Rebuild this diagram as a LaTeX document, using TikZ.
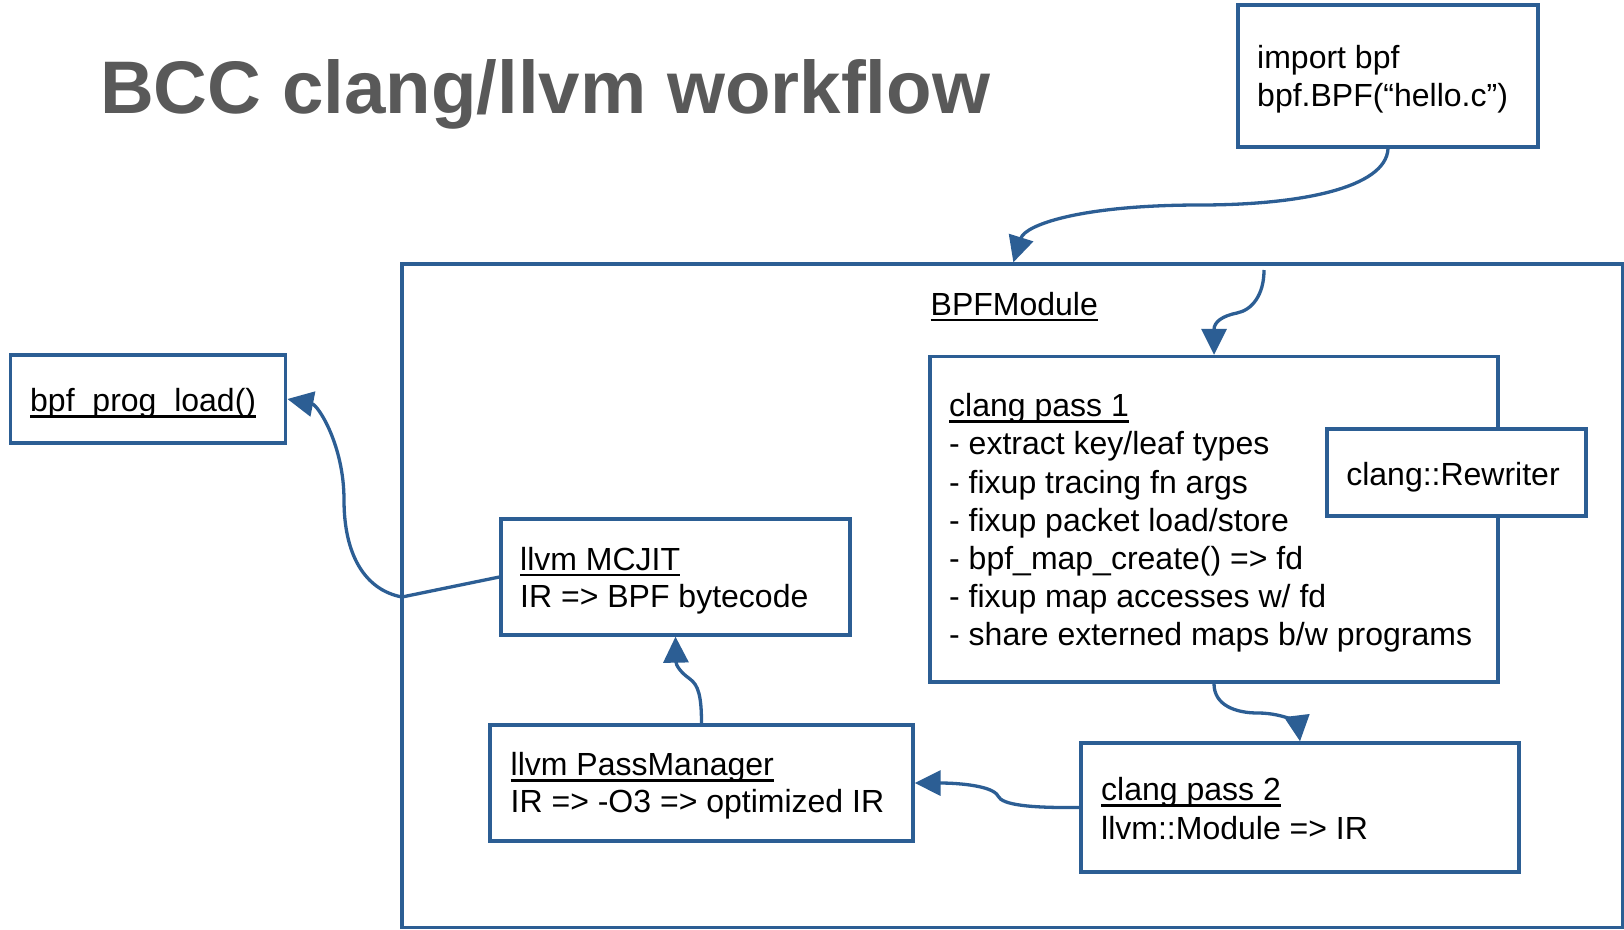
\documentclass[tikz,border=0pt]{standalone}
\usepackage{fontspec}
\setmainfont{Liberation Sans}
\usetikzlibrary{arrows.meta}
\definecolor{bcblue}{RGB}{44,94,148}
\definecolor{titlegray}{RGB}{89,89,89}
\newcommand\ulx[1]{\setbox0=\hbox{#1}\rlap{\rule[-6pt]{\wd0}{2.6pt}}\box0}
\newcommand\fl{\rule{0pt}{26pt}}
\begin{document}
\begin{tikzpicture}[x=1pt,y=-1pt,
  bbox/.style={draw=bcblue, line width=3.3pt, rectangle, inner sep=0pt, fill=white},
  txt/.style={anchor=north west, inner sep=0pt, align=left, text=black},
  conn/.style={draw=bcblue, line width=3.3pt, -{Triangle[length=26pt,width=25pt]}},
]
\useasboundingbox (0,0) rectangle (1624,929);

% title
\node[anchor=base west, inner sep=0pt, font=\fontsize{74.5}{80}\selectfont\bfseries, text=titlegray] (title) at (100,113.3) {BCC clang/llvm workflow};

% boxes
\node[bbox, minimum width=1221pt, minimum height=663.5pt] (bpfm) at (1012.5,595.75) {};
\node[bbox, minimum width=300pt, minimum height=142pt] (imp) at (1388,76) {};
\node[bbox, minimum width=568pt, minimum height=325.5pt] (cp1) at (1214,519.25) {};
\node[bbox, minimum width=259pt, minimum height=87pt] (rew) at (1456.5,472.5) {};
\node[bbox, minimum width=275.5pt, minimum height=88pt] (load) at (148,399) {};
\node[bbox, minimum width=349pt, minimum height=116pt] (mcjit) at (675.5,577) {};
\node[bbox, minimum width=423pt, minimum height=116pt] (pm) at (701.5,783) {};
\node[bbox, minimum width=438pt, minimum height=129pt] (cp2) at (1300,807.5) {};

% texts
\node[txt, font=\fontsize{32}{38.5}\selectfont] (impt) at (1257,42) {\fl import bpf\\bpf.BPF(“hello.c”)};
\node[txt, font=\fontsize{32}{38}\selectfont] (bpfmt) at (930.5,289) {\fl\ulx{BPFModule}};
\node[txt, font=\fontsize{32}{38.2}\selectfont] (cp1t) at (949,390.5) {\fl\ulx{clang pass 1}\\
- extract key/leaf types\\
- fixup tracing fn args\\
- fixup packet load/store\\
- bpf\_map\_create() => fd\\
- fixup map accesses w/ fd\\
- share externed maps b/w programs};
\node[anchor=base, inner sep=0pt, font=\fontsize{32}{38}\selectfont] (rewt) at (1453,485) {clang::Rewriter};
\node[txt, font=\fontsize{32}{38}\selectfont] (loadt) at (30,385.5) {\fl\ulx{bpf\_prog\_load()}};
\node[txt, font=\fontsize{32}{37}\selectfont] (mcjitt) at (520,544) {\fl\ulx{llvm MCJIT}\\IR => BPF bytecode};
\node[txt, font=\fontsize{32}{36.5}\selectfont] (pmt) at (510.5,749.5) {\fl\ulx{llvm PassManager}\\IR => -O3 => optimized IR};
\node[txt, font=\fontsize{32}{38.5}\selectfont] (cp2t) at (1101,774.5) {\fl\ulx{clang pass 2}\\llvm::Module => IR};

% helper coordinates
\coordinate (bpfin) at ([xshift=613pt]bpfm.north west);
\coordinate (c2s) at (1264,270);
\coordinate (jb) at (402,597);

% connectors
\draw[conn] (imp.south) .. controls (1386,188) and (1300,205) .. (1200,205)
  .. controls (1080,205) and (1025,225) .. (bpfin);
\draw[conn] (c2s) .. controls (1264,295) and (1252,310) .. (1237,313)
  .. controls (1222,316) and (1214,322) .. (cp1.north);
\draw[conn] (cp1.south) .. controls (1214,705) and (1235,713) .. (1258,713)
  .. controls (1285,713) and (1298,725) .. (cp2.north);
\draw[conn] (cp2.west) .. controls (1030,808) and (1002,805) .. (998,796)
  .. controls (993,786) and (960,783) .. (pm.east);
\draw[conn] (pm.north) .. controls (701.5,695) and (698,685) .. (690,679)
  .. controls (680,672) and (676,665) .. (mcjit.south);
\draw[conn] (mcjit.west) -- (jb) .. controls (365,590) and (344,555) .. (344,500)
  .. controls (344,445) and (318,405) .. (load.east);
\end{tikzpicture}
\end{document}
